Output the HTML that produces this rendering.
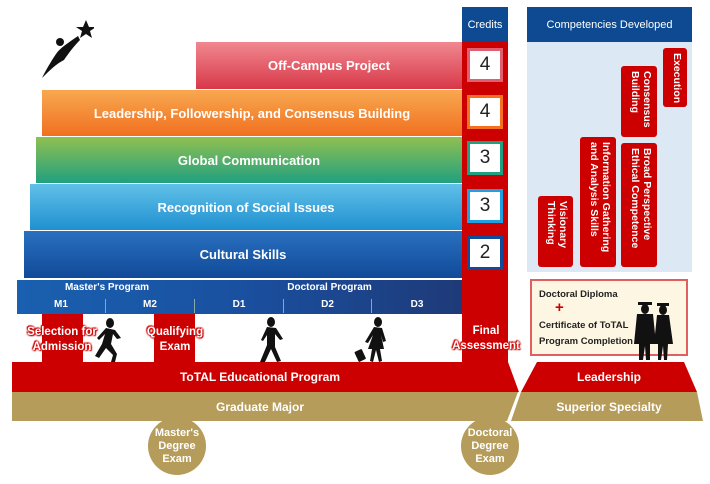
<!DOCTYPE html>
<html><head><style>
body{margin:0;width:710px;height:484px;background:#fff;position:relative;overflow:hidden;font-family:"Liberation Sans",sans-serif;font-weight:bold;}
.a{position:absolute;box-sizing:border-box;}
.bar{color:#fff;font-size:13px;display:flex;align-items:center;justify-content:center;}
.cb{position:absolute;left:467px;width:36px;height:34px;background:#fff;color:#222;font-size:19px;font-weight:normal;display:flex;align-items:center;justify-content:center;box-sizing:border-box;border:3px solid;}
.v{position:absolute;background:#c00;color:#fff;border-radius:3px;writing-mode:vertical-rl;font-size:10.5px;line-height:12px;padding:5px 4px;box-sizing:border-box;text-align:left;}
.lab{color:#fff;font-size:11.5px;text-align:center;line-height:15px;text-shadow:0 0 2px #c00,0 0 2px #c00,0 0 2px #c00,1px 1px 1px #c00,-1px -1px 1px #c00;}
.circ{position:absolute;width:58px;height:58px;border-radius:50%;background:#b59c5a;color:#fff;font-size:11px;line-height:13px;display:flex;align-items:center;justify-content:center;text-align:center;}
</style></head><body>
<svg class="a" style="left:38px;top:18px" width="56" height="62"><polygon points="48,2 51,9 58,9 52,13 54,20 48,16 42,20 44,13 38,9 45,9" fill="#111"/><path d="M40,18 C30,25 22,30 18,36 C12,45 8,52 4,60 C12,52 18,46 26,42 C30,36 36,28 42,22Z" fill="#111"/><circle cx="22" cy="24" r="4" fill="#111"/></svg>

<div class="a" style="left:462px;top:42px;width:46px;height:322px;background:#c00"></div>
<div class="a bar" style="left:196px;top:42px;width:266px;height:47px;background:linear-gradient(#f08890,#d83848)">Off-Campus Project</div>
<div class="a bar" style="left:42px;top:90px;width:420px;height:46px;background:linear-gradient(#f8a850,#f07020)">Leadership, Followership, and Consensus Building</div>
<div class="a bar" style="left:36px;top:137px;width:426px;height:46px;background:linear-gradient(#90c050,#20a080)">Global Communication</div>
<div class="a bar" style="left:30px;top:184px;width:432px;height:46px;background:linear-gradient(#60c0e8,#2090d0)">Recognition of Social Issues</div>
<div class="a bar" style="left:24px;top:231px;width:438px;height:47px;background:linear-gradient(#2a70c0,#104a98)">Cultural Skills</div>

<div class="a" style="left:17px;top:280px;width:445px;height:34px;background:linear-gradient(90deg,#1a60b0,#1a50a0 50%,#1e3a78);color:#fff;font-size:10px"></div>
<div class="a" style="left:17px;top:282px;width:180px;color:#fff;font-size:10px;text-align:center">Master's Program</div>
<div class="a" style="left:197px;top:282px;width:265px;color:#fff;font-size:10px;text-align:center">Doctoral Program</div>
<div class="a" style="left:17px;top:299px;width:89px;height:14px;color:#fff;font-size:10px;text-align:center;border-right:1px solid #8aa">M1</div>
<div class="a" style="left:106px;top:299px;width:89px;height:14px;color:#fff;font-size:10px;text-align:center;border-right:1px solid #8aa">M2</div>
<div class="a" style="left:195px;top:299px;width:89px;height:14px;color:#fff;font-size:10px;text-align:center;border-right:1px solid #8aa">D1</div>
<div class="a" style="left:284px;top:299px;width:88px;height:14px;color:#fff;font-size:10px;text-align:center;border-right:1px solid #8aa">D2</div>
<div class="a" style="left:372px;top:299px;width:90px;height:14px;color:#fff;font-size:10px;text-align:center">D3</div>

<div class="a" style="left:42px;top:314px;width:41px;height:50px;background:#c00"></div>
<div class="a" style="left:154px;top:314px;width:41px;height:50px;background:#c00"></div>
<div class="a lab" style="left:22px;top:325px;width:80px">Selection for<br>Admission</div>
<div class="a lab" style="left:140px;top:325px;width:70px">Qualifying<br>Exam</div>
<div class="a lab" style="left:452px;top:324px;width:68px">Final<br>Assessment</div>
<svg class="a" style="left:93px;top:318px" width="30" height="45"><ellipse cx="17" cy="5" rx="4" ry="5" fill="#111"/><path d="M13,10 L22,12 L28,20 L24,21 L20,16 L18,26 L24,36 L22,44 L18,44 L20,37 L13,30 L6,40 L2,38 L9,26 L12,16 L6,22 L4,20Z" fill="#111"/></svg>
<svg class="a" style="left:257px;top:317px" width="30" height="46"><ellipse cx="14" cy="5" rx="4" ry="5" fill="#111"/><path d="M10,10 L19,11 L26,22 L23,23 L18,17 L18,30 L24,44 L20,45 L14,32 L8,45 L3,45 L10,28 L10,18 L6,24 L4,23Z" fill="#111"/></svg>
<svg class="a" style="left:354px;top:317px" width="36" height="46"><ellipse cx="24" cy="5" rx="4" ry="5" fill="#111"/><path d="M20,10 L28,11 L32,24 L29,25 L27,18 L30,32 L26,32 L28,44 L25,45 L22,33 L19,45 L16,44 L18,32 L14,32 L19,18 L14,26 L11,25Z" fill="#111"/><rect x="2" y="33" width="8" height="11" rx="1" fill="#111" transform="rotate(-25 6 38)"/></svg>

<svg class="a" style="left:10px;top:362px" width="512" height="60"><polygon points="2,0 498,0 509,30 498,31 2,31" fill="#c00"/><polygon points="2,30 508,30 497,59 2,59" fill="#b59c5a"/></svg>
<div class="a" style="left:10px;top:362px;width:500px;height:30px;color:#fff;font-size:12px;display:flex;align-items:center;justify-content:center">ToTAL Educational Program</div>
<div class="a" style="left:10px;top:392px;width:500px;height:29px;color:#fff;font-size:12px;display:flex;align-items:center;justify-content:center">Graduate Major</div>
<div class="circ" style="left:148px;top:417px">Master's<br>Degree<br>Exam</div>
<div class="circ" style="left:461px;top:417px">Doctoral<br>Degree<br>Exam</div>

<div class="a" style="left:462px;top:7px;width:46px;height:35px;background:#0d4a92;color:#fff;font-size:11px;font-weight:normal;display:flex;align-items:center;justify-content:center">Credits</div>
<div class="cb" style="top:48px;border-color:#e06070">4</div>
<div class="cb" style="top:95px;border-color:#f57020">4</div>
<div class="cb" style="top:141px;border-color:#20a080">3</div>
<div class="cb" style="top:189px;border-color:#20a0e0">3</div>
<div class="cb" style="top:236px;border-color:#104a98">2</div>

<div class="a" style="left:527px;top:7px;width:165px;height:35px;background:#0d4a92;color:#fff;font-size:11px;font-weight:normal;display:flex;align-items:center;justify-content:center">Competencies Developed</div>
<div class="a" style="left:527px;top:42px;width:165px;height:230px;background:#dce8f4"></div>
<div class="v" style="left:663px;top:48px;width:24px;height:59px">Execution</div>
<div class="v" style="left:621px;top:66px;width:36px;height:71px">Consensus Building</div>
<div class="v" style="left:580px;top:137px;width:36px;height:130px">Information Gathering and Analysis Skills</div>
<div class="v" style="left:621px;top:143px;width:36px;height:124px">Broad Perspective Ethical Competence</div>
<div class="v" style="left:538px;top:196px;width:35px;height:71px">Visionary Thinking</div>

<div class="a" style="left:530px;top:279px;width:158px;height:77px;background:#fdf6e2;border:2px solid #e06060"></div>
<div class="a" style="left:539px;top:289px;font-size:9.5px;color:#222">Doctoral Diploma</div>
<div class="a" style="left:555px;top:299px;font-size:15px;color:#c00">+</div>
<div class="a" style="left:539px;top:318px;font-size:9.5px;line-height:16px;color:#222">Certificate of ToTAL<br>Program Completion</div>
<svg class="a" style="left:632px;top:300px" width="46" height="62"><rect x="6" y="2" width="14" height="3" fill="#111"/><ellipse cx="13" cy="9" rx="4" ry="5" fill="#111"/><path d="M5,14 L21,14 L24,44 L18,44 L18,60 L14,60 L13,46 L11,60 L7,60 L7,44 L2,44Z" fill="#111"/><rect x="25" y="3" width="12" height="3" fill="#111"/><ellipse cx="31" cy="10" rx="4" ry="5" fill="#111"/><path d="M25,15 L37,15 L41,44 L36,44 L35,60 L32,60 L31,46 L29,60 L26,60 L26,44 L22,44Z" fill="#111"/></svg>
<svg class="a" style="left:508px;top:362px" width="200" height="60"><polygon points="29,0 176,0 189,30 13,30" fill="#c00"/><polygon points="13,30 189,30 195,59 3,59" fill="#b59c5a"/></svg>
<div class="a" style="left:521px;top:362px;width:176px;height:30px;color:#fff;font-size:12px;display:flex;align-items:center;justify-content:center">Leadership</div>
<div class="a" style="left:511px;top:392px;width:196px;height:29px;color:#fff;font-size:12px;display:flex;align-items:center;justify-content:center">Superior Specialty</div>
</body></html>
